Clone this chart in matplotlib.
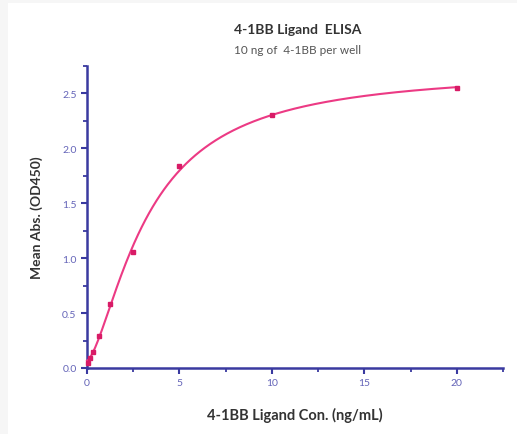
import numpy as np
import matplotlib
matplotlib.use("Agg")
import matplotlib.pyplot as plt
from matplotlib.patches import Rectangle
from matplotlib.ticker import MultipleLocator

# 4-1BB ligand concentrations (ng/mL) and mean OD450 readings
conc = [0.078, 0.156, 0.3125, 0.625, 1.25, 2.5, 5, 10, 20]
od450 = [0.05, 0.09, 0.15, 0.29, 0.58, 1.06, 1.84, 2.30, 2.55]

x_ticks = [0, 5, 10, 15, 20]
y_ticks = [0.0, 0.5, 1.0, 1.5, 2.0, 2.5]

axis_col = '#3a3aa0'
label_col = '#6464b8'
line_col = '#ec3a84'
dot_col = '#d81b66'

plt.rcParams['font.family'] = ['Lato', 'DejaVu Sans']


def four_pl(x, bottom, top, ec50, hill):
    return bottom + (top - bottom) / (1 + (ec50 / np.maximum(x, 1e-9)) ** hill)


# crude 4PL fit: grid over ec50/hill, least squares for bottom/top
xd = np.array(conc)
yd = np.array(od450)
best = None
for c in np.linspace(1, 15, 141):
    for h in np.linspace(0.6, 2.5, 96):
        f = 1 / (1 + (c / xd) ** h)
        A = np.column_stack([1 - f, f])
        coef, *_ = np.linalg.lstsq(A, yd, rcond=None)
        err = np.sum((A @ coef - yd) ** 2)
        if best is None or err < best[0]:
            best = (err, coef[0], coef[1], c, h)
_, b0, t0, c0, h0 = best

fig = plt.figure(figsize=(5.17, 4.35), dpi=100)
fig.patch.set_facecolor('#f6f6f6')
fig.patches.append(Rectangle((8 / 517, 0), 1, 1 - 4 / 435, transform=fig.transFigure,
                             facecolor='white', edgecolor='none', zorder=-1))

ax = fig.add_axes([87 / 517, 1 - 369 / 435, 416 / 517, 302 / 435])
ax.set_facecolor('none')

xs = np.linspace(0.0, 20, 400)
ax.plot(xs, four_pl(xs, b0, t0, c0, h0), color=line_col, lw=1.5, clip_on=False, zorder=3)
ax.plot(conc, od450, 's', color=dot_col, ms=3.3, clip_on=False, zorder=4)

ax.set_xlim(0, 22.5)
ax.set_ylim(0, 2.75)
ax.set_xticks(x_ticks)
ax.set_yticks(y_ticks)
ax.set_yticklabels([f'{v:.1f}' for v in y_ticks])
ax.xaxis.set_minor_locator(MultipleLocator(2.5))
ax.yaxis.set_minor_locator(MultipleLocator(0.25))

for s in ['top', 'right']:
    ax.spines[s].set_visible(False)
for s in ['left', 'bottom']:
    ax.spines[s].set_color(axis_col)
    ax.spines[s].set_linewidth(1.8)

ax.tick_params(which='major', direction='out', length=4.5, width=1.5, color=axis_col,
               labelcolor=label_col, labelsize=7.5, pad=3)
ax.tick_params(which='minor', direction='out', length=3, width=1.3, color=axis_col)

ax.set_xlabel('4-1BB Ligand Con. (ng/mL)', fontsize=10.5, fontweight='bold',
              color='#333333', labelpad=14)
ax.set_ylabel('Mean Abs. (OD450)', fontsize=10, fontweight='bold',
              color='#333333', labelpad=14)

fig.text(0.575, 1 - 30 / 435, '4-1BB Ligand  ELISA', ha='center', va='center',
         fontsize=10, fontweight='bold', color='#333333')
fig.text(0.575, 1 - 50 / 435, '10 ng of  4-1BB per well', ha='center', va='center',
         fontsize=8.5, color='#555555')

fig.savefig('out.png', dpi=100)
